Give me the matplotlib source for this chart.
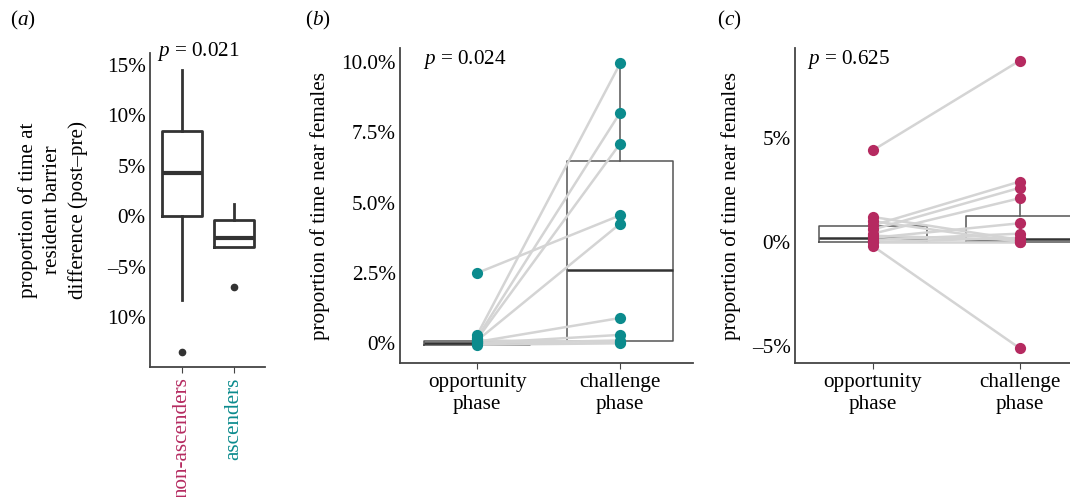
import numpy as np
import matplotlib.pyplot as plt

plt.rcParams['font.family'] = ['Liberation Serif', 'DejaVu Serif']
plt.rcParams['mathtext.fontset'] = 'custom'
plt.rcParams['mathtext.rm'] = 'Liberation Serif'
plt.rcParams['mathtext.it'] = 'Liberation Serif:italic'

TEAL = "#0b8b8d"
MAGENTA = "#b52a60"
GRAY_LINE = "#d4d4d4"
SPINE = "#444444"

# panel a: change in time at resident barrier (%)
a_groups = ["non-ascenders", "ascenders"]
a_group_colors = [MAGENTA, TEAL]
a_q1 = [0.0, -3.0]
a_med = [4.3, -2.2]
a_q3 = [8.5, -0.4]
a_whislo = [-8.3, -3.0]
a_whishi = [14.5, 1.2]
a_fliers = [[-13.5], [-7.0]]
a_yticks = [15, 10, 5, 0, -5, -10]
a_yticklabels = ["15%", "10%", "5%", "0%", "\u20135%", "10%"]

# panel b: ascenders, time near females (%)
phases = ["opportunity\nphase", "challenge\nphase"]
b_opp = [2.5, 0.3, 0.2, 0.15, 0.1, 0.05, 0.0, 0.0, -0.05, 0.1]
b_chal = [4.55, 9.95, 8.2, 7.1, 4.25, 0.9, 0.3, 0.1, 0.0, 0.05]
b_q1 = [-0.05, 0.1]
b_med = [0.0, 2.6]
b_q3 = [0.1, 6.5]
b_whislo = [-0.05, 0.1]
b_whishi = [0.1, 9.95]
b_yticks = [10, 7.5, 5, 2.5, 0]
b_yticklabels = ["10.0%", "7.5%", "5.0%", "2.5%", "0%"]

# panel c: non-ascenders, time near females (%)
c_opp = [4.4, -0.2, 1.2, 1.0, 0.8, 0.6, 0.4, 0.2, 0.1, 0.0, 0.0, 0.3]
c_chal = [8.7, -5.1, 0.1, 0.0, 2.9, 2.6, 2.1, 0.9, 0.4, 0.2, 0.0, 0.1]
c_q1 = [0.0, 0.0]
c_med = [0.2, 0.15]
c_q3 = [0.75, 1.25]
c_whislo = [0.0, 0.0]
c_whishi = [0.75, 2.1]
c_yticks = [5, 0, -5]
c_yticklabels = ["5%", "0%", "\u20135%"]

FS = 15.2


def style_axis(ax):
    for s in ["top", "right"]:
        ax.spines[s].set_visible(False)
    for s in ["left", "bottom"]:
        ax.spines[s].set_color(SPINE)
        ax.spines[s].set_linewidth(1.3)
    ax.tick_params(axis="y", length=0, pad=3, labelsize=FS)
    ax.tick_params(axis="x", length=4, color=SPINE, labelsize=FS)


def make_stats(q1, med, q3, lo, hi, fliers=None):
    stats = []
    for i in range(len(q1)):
        stats.append(dict(q1=q1[i], med=med[i], q3=q3[i], whislo=lo[i], whishi=hi[i],
                          fliers=fliers[i] if fliers else []))
    return stats


def paired_panel(ax, opp, chal, stats, color):
    ax.bxp(stats, positions=[1, 2], widths=0.74, showfliers=False, patch_artist=False,
           boxprops=dict(color="#555555", lw=1.1),
           medianprops=dict(color="#333333", lw=1.8),
           whiskerprops=dict(color="#555555", lw=1.1),
           capprops=dict(lw=0), zorder=1)
    for o, c in zip(opp, chal):
        ax.plot([1, 2], [o, c], color=GRAY_LINE, lw=1.8, zorder=2)
    ax.scatter(np.ones(len(opp)), opp, s=65, color=color, zorder=3, lw=0)
    ax.scatter(np.full(len(chal), 2), chal, s=65, color=color, zorder=3, lw=0)
    ax.set_xticks([1, 2])
    ax.set_xticklabels(phases, linespacing=1.15)
    style_axis(ax)


fig = plt.figure(figsize=(10.7, 4.97), dpi=100)

# (a)
ax1 = fig.add_axes([150 / 1070, 130 / 497, 115 / 1070, 314 / 497])
stats_a = make_stats(a_q1, a_med, a_q3, a_whislo, a_whishi, a_fliers)
ax1.bxp(stats_a, positions=[1, 2], widths=0.77,
        boxprops=dict(color="#333333", lw=2.0),
        medianprops=dict(color="#333333", lw=3.0),
        whiskerprops=dict(color="#333333", lw=2.0),
        capprops=dict(lw=0),
        flierprops=dict(marker="o", markerfacecolor="#333333", markeredgecolor="#333333",
                        markersize=4.5))
ax1.set_xlim(0.385, 2.6)
ax1.set_ylim(-14.95, 16.2)
ax1.set_yticks(a_yticks)
ax1.set_yticklabels(a_yticklabels)
ax1.set_xticks([1, 2])
ax1.set_xticklabels(a_groups, rotation=90)
for lab, col in zip(ax1.get_xticklabels(), a_group_colors):
    lab.set_color(col)
style_axis(ax1)
ax1.set_ylabel("proportion of time at\nresident barrier\ndifference (post\u2013pre)",
               fontsize=FS, linespacing=1.38, labelpad=14)
ax1.text(0.06, 1.005, r"$p$ = 0.021", transform=ax1.transAxes, fontsize=FS,
         ha="left", va="center")

# (b)
ax2 = fig.add_axes([400 / 1070, 134 / 497, 293 / 1070, 315 / 497])
stats_b = make_stats(b_q1, b_med, b_q3, b_whislo, b_whishi)
paired_panel(ax2, b_opp, b_chal, stats_b, TEAL)
ax2.set_xlim(0.46, 2.51)
ax2.set_ylim(-0.7, 10.5)
ax2.set_yticks(b_yticks)
ax2.set_yticklabels(b_yticklabels)
ax2.set_ylabel("proportion of time near females", fontsize=FS, labelpad=8)
ax2.text(0.08, 0.965, r"$p$ = 0.024", transform=ax2.transAxes, fontsize=FS,
         ha="left", va="center")

# (c) - runs past the right edge like the original crop
ax3 = fig.add_axes([795 / 1070, 134 / 497, 300 / 1070, 315 / 497])
stats_c = make_stats(c_q1, c_med, c_q3, c_whislo, c_whishi)
paired_panel(ax3, c_opp, c_chal, stats_c, MAGENTA)
ax3.set_xlim(0.47, 2.51)
ax3.set_ylim(-5.8, 9.3)
ax3.set_yticks(c_yticks)
ax3.set_yticklabels(c_yticklabels)
ax3.set_ylabel("proportion of time near females", fontsize=FS, labelpad=8)
ax3.text(0.04, 0.965, r"$p$ = 0.625", transform=ax3.transAxes, fontsize=FS,
         ha="left", va="center")

for x, lab in [(10, "(a)"), (305, "(b)"), (717, "(c)")]:
    fig.text(x / 1070, 1 - 20 / 497, "(" + r"$" + lab[1] + "$" + ")", fontsize=FS,
             ha="left", va="center")

fig.savefig("out.png", dpi=100)
